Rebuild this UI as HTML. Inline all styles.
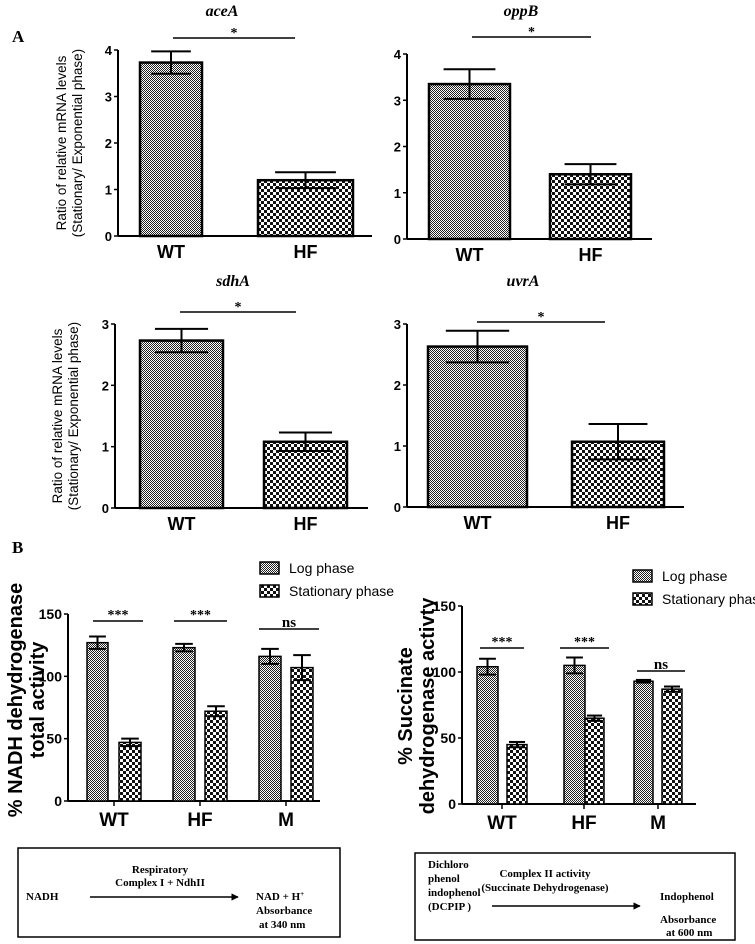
<!DOCTYPE html>
<html><head><meta charset="utf-8"><style>
html,body{margin:0;padding:0;background:#fff;}
svg{display:block;font-family:"Liberation Sans",Arial,sans-serif;}
.ser{font-family:"Liberation Serif",serif;font-weight:bold;}
</style></head><body>
<svg id="fig" width="755" height="944" viewBox="0 0 755 944">
<defs>
<pattern id="pLog" width="2" height="2" patternUnits="userSpaceOnUse"><rect width="2" height="2" fill="#fff"/><rect width="1" height="1" fill="#222"/><rect x="1" y="1" width="1" height="1" fill="#222"/></pattern>
<pattern id="pStat" width="6" height="6" patternUnits="userSpaceOnUse"><rect width="6" height="6" fill="#fff"/><rect width="3" height="3" fill="#111"/><rect x="3" y="3" width="3" height="3" fill="#111"/></pattern>
<marker id="arr" viewBox="0 0 10 10" refX="9" refY="5" markerWidth="5" markerHeight="5" orient="auto"><path d="M0,0 L10,5 L0,10 z" fill="#000"/></marker>
</defs>
<text x="12" y="42" class="ser" font-size="17">A</text>
<text x="12" y="553" class="ser" font-size="17">B</text>
<g id="charts"></g>
<g class="ser" font-size="11">
<rect x="18" y="848" width="322" height="89" fill="none" stroke="#000" stroke-width="1.5"/>
<text x="160" y="873" text-anchor="middle">Respiratory</text>
<text x="160" y="886" text-anchor="middle">Complex I + NdhII</text>
<text x="26" y="900">NADH</text>
<line x1="90" y1="897" x2="238" y2="897" stroke="#000" stroke-width="1.5" marker-end="url(#arr)"/>
<text x="256" y="900">NAD  + H<tspan font-size="7" dy="-4">+</tspan></text>
<text x="256" y="914">Absorbance</text>
<text x="259" y="928">at  340 nm</text>
</g>
<g class="ser" font-size="11">
<rect x="415" y="853" width="320" height="87" fill="none" stroke="#000" stroke-width="1.5"/>
<text x="428" y="868">Dichloro</text>
<text x="428" y="882">phenol</text>
<text x="428" y="896">indophenol</text>
<text x="428" y="910">(DCPIP )</text>
<text x="545" y="877" text-anchor="middle">Complex II activity</text>
<text x="545" y="891" text-anchor="middle">(Succinate Dehydrogenase)</text>
<line x1="492" y1="906" x2="640" y2="906" stroke="#000" stroke-width="1.5" marker-end="url(#arr)"/>
<text x="660" y="900">Indophenol</text>
<text x="660" y="923">Absorbance</text>
<text x="666" y="936">at  600 nm</text>
</g>
</svg>
<script>
// Panel A data
const mrnaGenes = ['aceA','oppB','sdhA','uvrA'];
const mrnaCategories = ['WT','HF'];
const aceAValues = [3.73, 1.2];
const aceAErrors = [0.24, 0.17];
const oppBValues = [3.35, 1.4];
const oppBErrors = [0.32, 0.22];
const sdhAValues = [2.73, 1.08];
const sdhAErrors = [0.19, 0.15];
const uvrAValues = [2.63, 1.07];
const uvrAErrors = [0.26, 0.29];
const mrnaTicks4 = ['0','1','2','3','4'];
const mrnaTicks3 = ['0','1','2','3'];
// Panel B data
const enzCategories = ['WT','HF','M'];
const nadhLog = [127, 123, 116];
const nadhLogErr = [5, 3, 6];
const nadhStat = [47, 72, 107];
const nadhStatErr = [3, 4, 10];
const sdhLog = [104, 105, 93];
const sdhLogErr = [6, 6, 1];
const sdhStat = [45, 65, 87];
const sdhStatErr = [2, 2, 2];
const enzTicks = ['0','50','100','150'];
const enzSig = ['***','***','ns'];

const NS='http://www.w3.org/2000/svg';
const root=document.getElementById('charts');
function el(tag,attrs,parent){const e=document.createElementNS(NS,tag);for(const k in attrs)e.setAttribute(k,attrs[k]);(parent||root).appendChild(e);return e;}
function txt(s,attrs,parent){const e=el('text',attrs,parent);e.textContent=s;return e;}

function axes(g,ax,y0,yTop,max,ticks,xEnd,tickFont){
  const y=v=>y0-(v/max)*(y0-yTop);
  el('line',{x1:ax,y1:y0,x2:xEnd,y2:y0,stroke:'#000','stroke-width':2},g);
  el('line',{x1:ax,y1:y0,x2:ax,y2:yTop,stroke:'#000','stroke-width':2},g);
  ticks.forEach(t=>{const yy=y(parseFloat(t));
    el('line',{x1:ax-4,y1:yy,x2:ax,y2:yy,stroke:'#000','stroke-width':1.5},g);
    const tt=txt(t,{x:ax-6,y:yy+5,'text-anchor':'end','font-size':tickFont,'font-weight':'bold'},g);
    
    
  });
  return y;
}
function errBar(g,cx,top,lo,hi,w){
  el('line',{x1:cx,y1:lo,x2:cx,y2:hi,stroke:'#000','stroke-width':2},g);
  el('line',{x1:cx-w,y1:hi,x2:cx+w,y2:hi,stroke:'#000','stroke-width':2},g);
  el('line',{x1:cx-w,y1:lo,x2:cx+w,y2:lo,stroke:'#000','stroke-width':2},g);
}

function mrnaChart(name,vals,errs,ticks,c){
  const g=el('g',{});
  
  
  const max=parseFloat(ticks[ticks.length-1]);
  const y=axes(g,c.ax,c.y0,c.yTop,max,ticks,c.xEnd,13);
  const t=txt(name,{x:c.titleX,y:c.titleY,'text-anchor':'middle','font-size':16,'font-style':'italic',class:'ser'},g);
  
  
  vals.forEach((v,i)=>{
    const x0=c.bars[i][0],x1=c.bars[i][1],cx=(x0+x1)/2;
    const r=el('rect',{x:x0,y:y(v),width:x1-x0,height:c.y0-y(v),fill:i==0?'url(#pLog)':'url(#pStat)',stroke:'#000','stroke-width':2.5},g);
    
    
    errBar(g,cx,y(v),y(v-errs[i]),y(v+errs[i]),(x1-x0)*0.32);
    const l=txt(mrnaCategories[i],{x:cx,y:c.y0+22,'text-anchor':'middle','font-size':18,'font-weight':'bold'},g);
    
    
  });
  el('line',{x1:c.sig[0],y1:c.sig[1],x2:c.sig[2],y2:c.sig[1],stroke:'#000','stroke-width':1.5},g);
  const s=txt('*',{x:(c.sig[0]+c.sig[2])/2,y:c.sig[1]-1,'text-anchor':'middle','font-size':14,class:'ser'},g);
  
  
  if(c.ylab){
    const yl=el('text',{transform:`translate(${c.ylab[0]},${c.ylab[1]}) rotate(-90)`,'text-anchor':'middle','font-size':13.5},g);
    
    
    const a=el('tspan',{x:0,dy:0},yl);a.textContent='Ratio of relative mRNA levels';
    const b=el('tspan',{x:0,dy:16},yl);b.textContent='(Stationary/ Exponential phase)';
  }
}
mrnaChart('aceA',aceAValues,aceAErrors,mrnaTicks4,{ax:118,y0:236,yTop:50,xEnd:372,titleX:222,titleY:16,bars:[[140,202],[258,353]],sig:[173,38,295],ylab:[66,143]});
mrnaChart('oppB',oppBValues,oppBErrors,mrnaTicks4,{ax:407,y0:239,yTop:54,xEnd:652,titleX:521,titleY:16,bars:[[429,510],[550,631]],sig:[472,37,591]});
mrnaChart('sdhA',sdhAValues,sdhAErrors,mrnaTicks3,{ax:115,y0:508,yTop:324,xEnd:368,titleX:233,titleY:286,bars:[[140,223],[264,347]],sig:[180,312,296],ylab:[62,416]});
mrnaChart('uvrA',uvrAValues,uvrAErrors,mrnaTicks3,{ax:407,y0:507,yTop:324,xEnd:684,titleX:523,titleY:286,bars:[[428,527],[572,664]],sig:[477,322,605]});

function enzChart(name,logV,logE,statV,statE,c){
  const g=el('g',{});
  
  
  const y=axes(g,c.ax,c.y0,c.yTop,150,enzTicks,c.xEnd,14);
  enzCategories.forEach((cat,i)=>{
    const lb=c.bars[i];
    [[logV,logE,'url(#pLog)','log'],[statV,statE,'url(#pStat)','stationary']].forEach((s,j)=>{
      const x0=lb[j*2],x1=lb[j*2+1],v=s[0][i];
      const r=el('rect',{x:x0,y:y(v),width:x1-x0,height:c.y0-y(v),fill:s[2],stroke:'#000','stroke-width':1.5},g);
      
      
      errBar(g,(x0+x1)/2,y(v),y(v-s[1][i]),y(v+s[1][i]),(x1-x0)*0.4);
    });
    const cx=(lb[0]+lb[3])/2;
    el('line',{x1:cx,y1:c.y0,x2:cx,y2:c.y0+5,stroke:'#000','stroke-width':1.5},g);
    const l=txt(cat,{x:cx,y:c.y0+25,'text-anchor':'middle','font-size':19,'font-weight':'bold'},g);
    
    
    const sg=c.sig[i];
    el('line',{x1:sg[0],y1:sg[2],x2:sg[1],y2:sg[2],stroke:'#000','stroke-width':1.5},g);
    const st=txt(enzSig[i],{x:(sg[0]+sg[1])/2,y:sg[2]-2,'text-anchor':'middle','font-size':enzSig[i]=='ns'?15:14,class:'ser'},g);
    
    
  });
  const yl=el('text',{transform:`translate(${c.ylab[0]},${c.ylab[1]}) rotate(-90)`,'text-anchor':'middle','font-size':20,'font-weight':'bold'},g);
  
  
  const a=el('tspan',{x:0,dy:0},yl);a.textContent=c.ylabText[0];
  const b=el('tspan',{x:0,dy:22},yl);b.textContent=c.ylabText[1];
  [['Log phase','url(#pLog)'],['Stationary phase','url(#pStat)']].forEach((L,k)=>{
    const lg=el('g',{},g);
    
    
    el('rect',{x:c.leg[0],y:c.leg[1]+k*23-6,width:19,height:12,fill:L[1],stroke:'#000','stroke-width':1.5},lg);
    txt(L[0],{x:c.leg[0]+29,y:c.leg[1]+k*23+5,'font-size':14},lg);
  });
}
enzChart('nadh',nadhLog,nadhLogErr,nadhStat,nadhStatErr,{ax:68,y0:801,yTop:614,xEnd:320,
  bars:[[87,108,119,141],[173,195,205,227],[259,281,291,313]],
  sig:[[93,143,621],[174,227,621],[259,319,629]],ylab:[22,700],ylabText:['% NADH dehydrogenase','total activity'],leg:[260,568]});
enzChart('sdh',sdhLog,sdhLogErr,sdhStat,sdhStatErr,{ax:462,y0:804,yTop:606,xEnd:696,
  bars:[[477,498,507,527],[564,585,585,604],[634,653,662,682]],
  sig:[[480,524,648],[560,609,648],[637,685,671]],ylab:[412,706],ylabText:['% Succinate','dehydrogenase activty'],leg:[633,576]});
</script>
</body></html>
